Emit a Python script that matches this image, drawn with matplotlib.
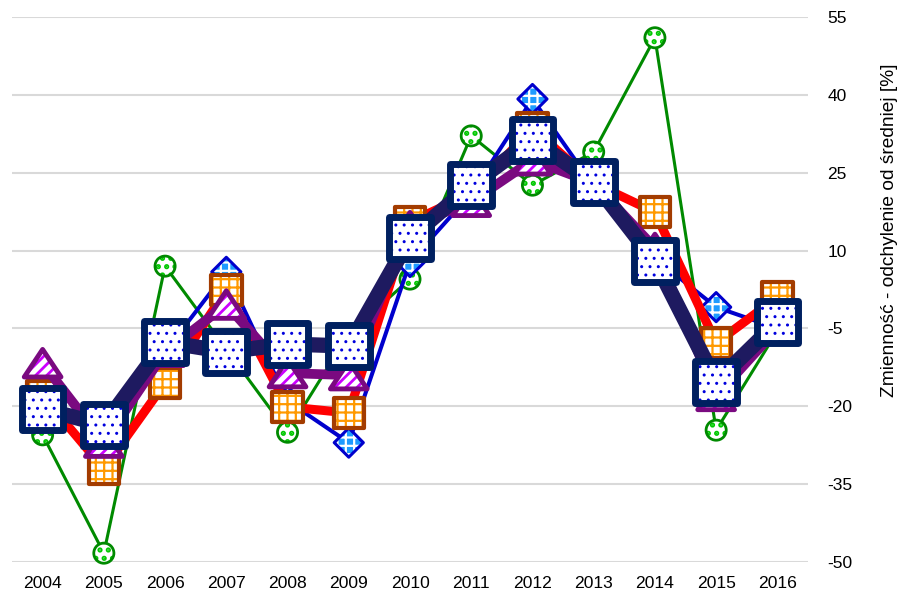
import numpy as np
import matplotlib
matplotlib.use("Agg")
import matplotlib.pyplot as plt
from matplotlib.path import Path

plt.rcParams['font.family'] = ['Liberation Sans', 'DejaVu Sans']
plt.rcParams['axes.unicode_minus'] = False

# dane
lata = ['2004', '2005', '2006', '2007', '2008', '2009', '2010',
        '2011', '2012', '2013', '2014', '2015', '2016']
zielona = [-25.5, -48.3, 7.0, -9.0, -25.0, -6.0, 4.5, 32.1, 22.6, 29.0, 51.0, -24.6, -5.5]
niebieska = [-20.0, -24.0, -9.5, 5.9, -19.0, -27.0, 7.8, 21.0, 39.2, 22.4, 8.5, -0.9, -5.0]
pomaranczowa = [-18.0, -32.0, -15.5, 2.4, -20.1, -21.3, 15.5, 21.0, 33.6, 23.0, 17.4, -7.8, 1.0]
fioletowa = [-11.7, -27.0, -9.5, -0.4, -13.6, -14.0, 14.7, 19.4, 27.4, 23.0, 10.5, -18.0, -5.0]
granatowa = [-20.5, -23.6, -7.6, -9.5, -8.0, -8.4, 12.4, 22.6, 31.3, 23.2, 8.0, -15.3, -3.8]

y_ticki = [-50, -35, -20, -5, 10, 25, 40, 55]

x = np.arange(len(lata))

fig = plt.figure(figsize=(9.1, 5.95), dpi=100)
ax = fig.add_axes([12 / 910, 1 - 562 / 595, (808 - 12) / 910, (562 - 17) / 595])

# szeroki trojkat (jak w Excelu)
trojkat = Path([(0, 0.75), (-1, -0.75), (1, -0.75), (0, 0.75)],
               [Path.MOVETO, Path.LINETO, Path.LINETO, Path.CLOSEPOLY])


def seria(y, kolor_linii, lw, marker, s, face, edge, elw, hatch, hatch_kolor, hlw, z):
    ax.plot(x, y, color=kolor_linii, lw=lw, zorder=z, solid_joinstyle='round',
            solid_capstyle='round', clip_on=False)
    plt.rcParams['hatch.linewidth'] = hlw
    # wypelnienie z deseniem (kolor deseniu = kolor krawedzi)
    ax.scatter(x, y, marker=marker, s=s, facecolor=face, edgecolor=hatch_kolor,
               linewidths=0, hatch=hatch, zorder=z + 0.3, clip_on=False)
    # obramowanie
    ax.scatter(x, y, marker=marker, s=s, facecolor='none', edgecolor=edge,
               linewidths=elw, zorder=z + 0.6, clip_on=False)


seria(zielona, '#008a00', 2.2, 'o', 210, 'white', '#008a00', 2.0, '..', '#00c800', 2.5, 3)
seria(niebieska, '#0000cc', 2.9, 'D', 220, '#1e9bff', '#0000cc', 2.2, '++', 'white', 1.6, 4)
seria(pomaranczowa, '#ff0000', 6.5, 's', 480, 'white', '#a33c00', 3.0, '++', '#ff9900', 1.6, 5)
seria(fioletowa, '#7a0a80', 7.0, trojkat, 700, 'white', '#7a0a80', 3.5, '///', '#cc00ff', 2.0, 6)
seria(granatowa, '#1e1a60', 11.0, 's', 900, 'white', '#002060', 5.0, '..', '#0000dd', 1.0, 7)

ax.set_xlim(-0.5, len(lata) - 0.5)
ax.set_ylim(-50, 55)
ax.set_xticks(x)
ax.set_xticklabels(lata)
ax.set_yticks(y_ticki)
ax.yaxis.tick_right()
ax.grid(axis='y', color='#d9d9d9', lw=1.5)
ax.set_axisbelow(True)
for sp in ax.spines.values():
    sp.set_visible(False)
ax.tick_params(axis='x', length=0, pad=10, labelsize=12.6)
ax.tick_params(axis='y', length=0, pad=14, labelsize=12.5)

fig.text(890 / 910, 1 - 230 / 595, 'Zmienność - odchylenie od średniej [%]',
         rotation=90, ha='center', va='center', fontsize=13.8)

fig.savefig('out.png', dpi=100)
